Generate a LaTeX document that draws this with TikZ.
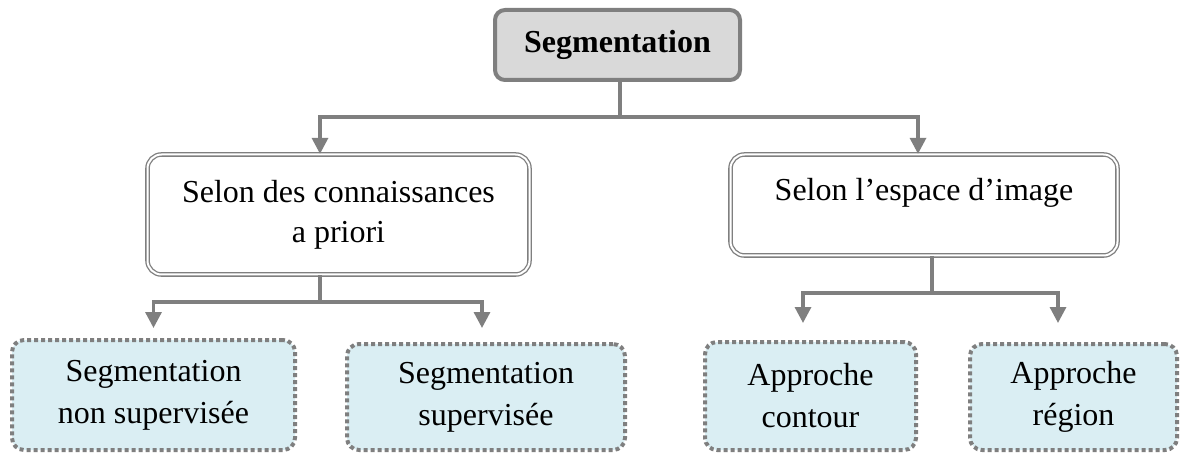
\documentclass[tikz,border=0pt]{standalone}
\usepackage{fontspec}
\setmainfont{Liberation Serif}
\usetikzlibrary{arrows.meta}
\definecolor{linegray}{HTML}{7F7F7F}
\definecolor{rootfill}{HTML}{D9D9D9}
\definecolor{leaffill}{HTML}{DAEEF3}

\begin{document}
\begin{tikzpicture}[x=1pt,y=-1pt,
  rootbox/.style={draw=linegray, line width=4pt, fill=rootfill, rounded corners=10pt,
    font=\fontsize{32}{40}\selectfont\bfseries, inner sep=0pt},
  midbox/.style={draw=linegray, double=white, double distance=2pt, line width=1.3pt,
    rounded corners=14pt, align=center, font=\fontsize{32}{40}\selectfont, inner sep=0pt},
  leafbox/.style={draw=linegray, fill=leaffill, line width=4pt, dash pattern=on 4pt off 3pt,
    rounded corners=12pt, align=center, font=\fontsize{32}{42}\selectfont, inner sep=0pt},
  link/.style={draw=linegray, line width=3.3pt},
  arrowlink/.style={link, -{Triangle[length=16pt,width=16pt]}},
]
\useasboundingbox (0,0) rectangle (1180,454);

% root
\node[rootbox, minimum width=245pt, minimum height=70pt] (root) at (617.5,45) {Segmentation};

% second level
\node[midbox, minimum width=382pt, minimum height=120pt] (prior) at (338.5,214.5)
  {Selon des connaissances\\a priori};
\node[midbox, minimum width=387pt, minimum height=101pt] (space) at (924,205)
  {Selon l’espace d’image\\[-8pt]\mbox{}};

% leaves
\node[leafbox, minimum width=283pt, minimum height=110pt] (unsup) at (153.5,395)
  {Segmentation\\non supervisée};
\node[leafbox, minimum width=278pt, minimum height=106pt] (sup) at (486,397)
  {Segmentation\\supervisée};
\node[leafbox, minimum width=211pt, minimum height=108pt] (contour) at (810.5,396)
  {Approche\\contour};
\node[leafbox, minimum width=207pt, minimum height=106pt] (region) at (1073.5,397)
  {Approche\\région};

% junctions
\coordinate (j0) at (620,117);
\coordinate (j1) at (320,302);
\coordinate (j2) at (932,293);

% root to second level
\draw[link] (root.south -| j0) -- (j0);
\draw[arrowlink] (j0) -| ([xshift=-18.5pt]prior.north);
\draw[arrowlink] (j0) -| ([xshift=-6pt]space.north);

% prior knowledge branch
\draw[link] (prior.south -| j1) -- (j1);
\draw[arrowlink] (j1) -| ([yshift=10pt]unsup.north);
\draw[arrowlink] (j1) -| ([xshift=-4pt,yshift=14pt]sup.north);

% image space branch
\draw[link] (space.south -| j2) -- (j2);
\draw[arrowlink] (j2) -| ([xshift=-7.5pt,yshift=17pt]contour.north);
\draw[arrowlink] (j2) -| ([xshift=-15.5pt,yshift=19pt]region.north);
\end{tikzpicture}
\end{document}
